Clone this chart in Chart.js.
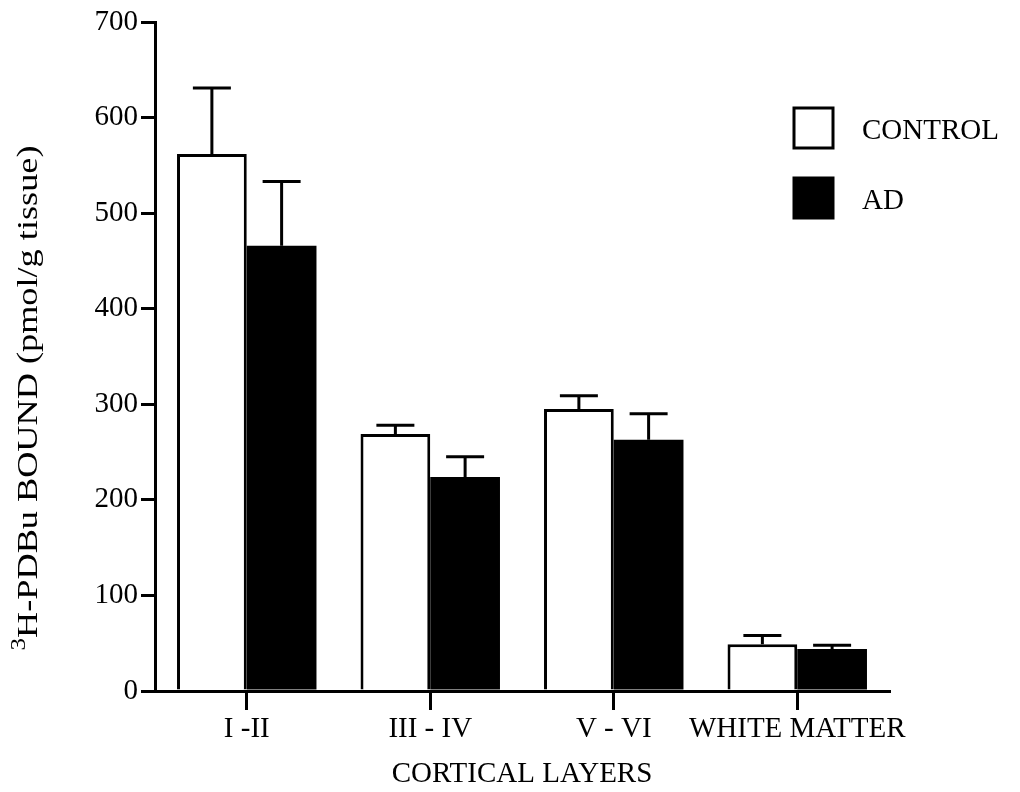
<!DOCTYPE html>
<html>
<head>
<meta charset="utf-8">
<script src="https://cdn.jsdelivr.net/npm/chart.js@4.4.1/dist/chart.umd.min.js"></script>
<style>
    html, body { margin: 0; padding: 0; background: #ffffff; }
    #wrap { width: 1020px; height: 792px; position: relative; }
</style>
</head>
<body>
<div id="wrap"><canvas id="pdbuChart" width="1020" height="792"></canvas></div>
<script>
const layers = ['I -II', 'III - IV', 'V - VI', 'WHITE MATTER'];
const controlValues = [562, 269, 295, 49];
const controlErrors = [69, 9, 14, 9];
const adValues = [466, 224, 263, 44];
const adErrors = [67, 21, 27, 4];
const yTicks = [0, 100, 200, 300, 400, 500, 600, 700];

const serif = 'Liberation Serif, Times New Roman, serif';

// error bars drawn upward from each bar top
const errorBarPlugin = {
    id: 'errorBars',
    afterDatasetsDraw(chart) {
        const ctx = chart.ctx;
        const yScale = chart.scales.y;
        ctx.save();
        ctx.strokeStyle = '#000000';
        ctx.lineWidth = 3;
        chart.data.datasets.forEach((ds, di) => {
            const meta = chart.getDatasetMeta(di);
            meta.data.forEach((bar, i) => {
                const top = yScale.getPixelForValue(ds.data[i] + ds.errors[i]);
                ctx.beginPath();
                ctx.moveTo(bar.x, bar.y);
                ctx.lineTo(bar.x, top);
                ctx.moveTo(bar.x - 19, top);
                ctx.lineTo(bar.x + 19, top);
                ctx.stroke();
            });
        });
        ctx.restore();
    }
};

// legend boxes at the upper right
const legendPlugin = {
    id: 'boxLegend',
    afterDraw(chart) {
        const ctx = chart.ctx;
        ctx.save();
        ctx.font = '29px ' + serif;
        ctx.textBaseline = 'middle';
        ctx.fillStyle = '#000000';
        chart.data.datasets.forEach((ds, di) => {
            const y = 108 + di * 70;
            ctx.fillStyle = ds.backgroundColor;
            ctx.fillRect(794, y, 39, 40);
            ctx.strokeStyle = '#000000';
            ctx.lineWidth = 3;
            ctx.strokeRect(794, y, 39, 40);
            ctx.fillStyle = '#000000';
            ctx.fillText(ds.label, 862, y + 23);
        });
        ctx.restore();
    }
};

// rotated y title with superscript 3
const yTitlePlugin = {
    id: 'yTitle',
    afterDraw(chart) {
        const ctx = chart.ctx;
        const main = 'H-PDBu BOUND (pmol/g tissue)';
        ctx.save();
        ctx.translate(37, 398);
        ctx.rotate(-Math.PI / 2);
        ctx.scale(1.25, 1);
        ctx.fillStyle = '#000000';
        ctx.textBaseline = 'alphabetic';
        ctx.font = '29px ' + serif;
        const wMain = ctx.measureText(main).width;
        ctx.font = '20px ' + serif;
        const wSup = ctx.measureText('3').width;
        const start = -(wMain + wSup) / 2;
        ctx.fillText('3', start, -12);
        ctx.font = '29px ' + serif;
        ctx.fillText(main, start + wSup, 0);
        ctx.restore();
    }
};

new Chart(document.getElementById('pdbuChart'), {
    type: 'bar',
    data: {
        labels: layers,
        datasets: [
            {
                label: 'CONTROL',
                data: controlValues,
                errors: controlErrors,
                backgroundColor: '#ffffff',
                borderColor: '#000000',
                borderWidth: 3,
                borderSkipped: 'bottom'
            },
            {
                label: 'AD',
                data: adValues,
                errors: adErrors,
                backgroundColor: '#000000',
                borderColor: '#000000',
                borderWidth: 0
            }
        ]
    },
    plugins: [errorBarPlugin, legendPlugin, yTitlePlugin],
    options: {
        responsive: false,
        animation: false,
        devicePixelRatio: 1,
        barPercentage: 1.0,
        categoryPercentage: 0.76,
        layout: {
            padding: { top: 22, right: 131, left: 0, bottom: 0 }
        },
        plugins: {
            legend: { display: false },
            tooltip: { enabled: false }
        },
        scales: {
            x: {
                afterFit: (scale) => { scale.height = 101; },
                grid: {
                    offset: false,
                    drawOnChartArea: false,
                    drawTicks: true,
                    tickLength: 19,
                    color: '#000000',
                    lineWidth: 3
                },
                border: { display: true, color: '#000000', width: 3 },
                ticks: {
                    color: '#000000',
                    padding: 2,
                    maxRotation: 0,
                    autoSkip: false,
                    font: { size: 29, family: serif }
                },
                title: {
                    display: true,
                    text: 'CORTICAL LAYERS',
                    color: '#000000',
                    padding: { top: 8, bottom: 0 },
                    font: { size: 29, family: serif }
                }
            },
            y: {
                min: 0,
                max: 700,
                afterFit: (scale) => { scale.width = 155; },
                afterBuildTicks: (scale) => {
                    scale.ticks = yTicks.map(v => ({ value: v }));
                },
                grid: {
                    drawOnChartArea: false,
                    drawTicks: true,
                    tickLength: 14,
                    color: '#000000',
                    lineWidth: 3
                },
                border: { display: true, color: '#000000', width: 3 },
                ticks: {
                    color: '#000000',
                    padding: 3,
                    font: { size: 29, family: serif }
                }
            }
        }
    }
});
</script>
</body>
</html>
